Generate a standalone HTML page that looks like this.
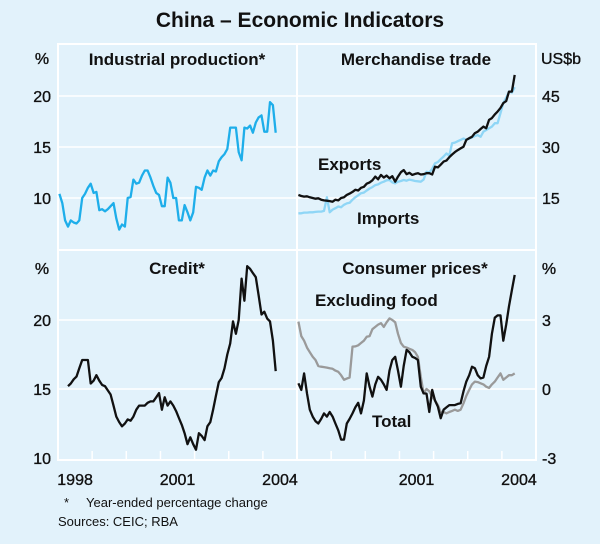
<!DOCTYPE html>
<html><head><meta charset="utf-8"><style>
body{margin:0;background:#e2f2fb;}
svg{display:block;font-family:"Liberation Sans",Arial,sans-serif;}
.t{font-size:16px;fill:#111;stroke:#111;stroke-width:0.35;}
.pt{font-size:17px;font-weight:bold;fill:#111;}
</style></head><body>
<svg id="c" width="600" height="544" viewBox="0 0 600 544">
<rect width="600" height="544" fill="#e2f2fb"/>
<text x="300" y="27" text-anchor="middle" font-size="21" font-weight="bold" fill="#111">China – Economic Indicators</text>
<g id="grid"></g>
<g id="series"></g>
<g id="labels"></g>
<text x="177" y="65" text-anchor="middle" class="pt">Industrial production*</text>
<text x="416" y="65" text-anchor="middle" class="pt">Merchandise trade</text>
<text x="177" y="274" text-anchor="middle" class="pt">Credit*</text>
<text x="415" y="274" text-anchor="middle" class="pt">Consumer prices*</text>
<text x="318" y="170" class="pt">Exports</text>
<text x="357" y="224" class="pt">Imports</text>
<text x="315" y="306" class="pt">Excluding food</text>
<text x="372" y="427" class="pt">Total</text>
<text x="42" y="64" class="t" text-anchor="middle">%</text>
<text x="541" y="64" class="t">US$b</text>
<text x="42" y="274" class="t" text-anchor="middle">%</text>
<text x="549" y="274" class="t" text-anchor="middle">%</text>
<text x="64" y="507" font-size="13" fill="#111">*</text>
<text x="86" y="507" font-size="13" fill="#111">Year-ended percentage change</text>
<text x="58" y="526" font-size="13" fill="#111">Sources: CEIC; RBA</text>
</svg>
<script>
const ipVals=[10.4,9.5,7.8,7.2,7.8,7.6,7.5,7.8,10.0,10.4,11.0,11.4,10.5,10.6,8.8,8.9,8.7,8.9,9.2,9.5,8.0,6.9,7.4,7.2,10.0,10.1,11.8,11.4,11.5,12.2,12.7,12.7,12.0,11.2,10.5,10.3,9.2,9.2,12.0,11.5,10.0,10.0,7.8,7.8,9.3,8.6,7.8,8.6,11.1,11.0,10.8,12.0,12.7,12.2,12.7,12.6,13.6,14.0,14.3,14.8,16.9,16.9,16.9,14.5,13.7,16.9,16.8,17.1,16.4,17.4,17.9,18.1,16.5,16.5,19.4,19.1,16.4];
const exportVals=[15.9,15.6,15.4,15.5,15.2,15.0,14.8,14.9,14.5,14.3,14.2,14.1,13.9,14.5,14.3,15.0,15.2,15.9,16.3,16.8,17.4,17.2,18.0,18.3,19.2,19.6,20.2,21.3,20.5,21.8,21.0,21.6,20.8,21.4,19.8,21.3,22.6,23.2,22.0,22.4,21.8,22.1,22.3,21.9,22.0,22.3,22.3,21.9,24.2,24.0,24.8,25.7,26.0,27.0,27.8,28.5,29.1,29.6,30.1,32.1,32.6,33.0,34.1,34.5,35.3,36.0,35.5,38.0,38.5,39.6,40.4,41.5,42.9,43.5,46.3,46.3,51.2];
const importVals=[10.5,10.5,10.7,10.7,10.8,10.8,10.9,11.0,11.0,11.2,15.2,10.8,11.6,12.0,12.5,12.3,13.0,13.4,13.6,14.5,15.2,15.8,16.4,16.6,17.2,17.8,18.2,18.8,19.0,19.5,19.8,20.2,20.3,19.6,19.3,19.8,20.0,20.3,20.1,20.4,20.2,20.0,19.9,19.8,20.4,22.7,22.5,23.6,25.2,25.6,26.4,27.2,28.1,27.5,31.1,31.3,31.7,32.1,32.5,32.1,32.5,32.8,33.2,33.5,33.0,34.5,35.0,35.5,36.0,37.0,37.0,40.0,42.9,44.5,46.3,46.0,47.6];
const creditStart=3;
const creditVals=[15.2,15.4,15.7,15.9,16.5,17.1,17.1,17.1,15.4,15.6,16.0,15.6,15.3,15.2,14.9,14.6,13.8,13.0,12.6,12.3,12.5,12.8,12.7,13.0,13.5,13.8,13.8,13.8,14.0,14.1,14.1,14.4,14.7,13.5,14.4,13.8,14.1,13.8,13.4,12.9,12.4,11.8,11.0,11.5,11.0,10.6,11.8,11.6,11.3,12.3,12.6,13.5,14.5,15.5,15.8,16.5,17.5,18.3,19.9,19.0,20.0,23.0,21.4,23.9,23.7,23.4,23.1,21.8,20.4,20.6,20.1,19.9,18.5,16.3];
const cpiTotal=[0.25,-0.04,0.68,-0.19,-0.9,-1.2,-1.4,-1.5,-1.3,-1.06,-1.2,-1.0,-1.2,-1.5,-1.8,-2.2,-2.2,-1.5,-1.3,-1.06,-0.8,-0.6,-1.06,-0.5,0.68,0.1,-0.33,0.2,0.53,0.4,0.2,-0.04,0.8,1.26,1.4,0.8,0.1,1.0,1.7,1.6,1.4,1.35,1.26,0.1,-0.19,-0.2,-1.0,-0.04,-0.5,-0.77,-1.27,-0.9,-0.8,-0.7,-0.7,-0.7,-0.65,-0.62,-0.1,0.32,0.6,0.97,0.9,0.6,0.46,0.5,1.0,1.4,2.4,3.1,3.2,3.2,2.1,2.8,3.6,4.3,4.96];
const cpiExFood=[2.93,2.3,2.1,1.8,1.6,1.4,1.26,1.0,0.97,0.95,0.93,0.9,0.88,0.8,0.75,0.6,0.4,0.45,0.5,1.84,1.85,1.9,2.0,2.1,2.27,2.3,2.6,2.7,2.8,2.86,2.7,2.9,3.07,3.0,2.9,2.4,2.0,1.84,1.8,1.75,1.7,1.6,1.4,0.53,-0.19,0.0,-0.1,-0.33,-0.5,-0.7,-1.0,-1.0,-1.06,-1.0,-0.95,-0.9,-0.95,-0.9,-0.62,-0.3,-0.04,0.2,0.32,0.3,0.25,0.2,0.1,0.05,0.2,0.32,0.5,0.68,0.4,0.5,0.6,0.6,0.68];
const yearLabels=["1998","2001","2004"];
const yearLabelIdx=[0,3,6];
const ipTicks=[10,15,20];
const tradeTicks=[15,30,45];
const creditTicks=[10,15,20];
const cpiTicks=[-3,0,3];

const NS="http://www.w3.org/2000/svg";
const LX=58,RX=297,PW=239,YW=34.15;
const TOP=44,MID=250,BOT=460;
const xL=i=>LX+(i+0.5)*YW/12;
const xR=i=>RX+(i+0.5)*YW/12;
const yIP=v=>96+(20-v)*10.2;
const yTR=v=>96+(45-v)*3.4;
const yCR=v=>320+(20-v)*13.8;
const yCP=v=>389-v*23;
function mk(tag,attrs,parent){const e=document.createElementNS(NS,tag);for(const k in attrs)e.setAttribute(k,attrs[k]);parent.appendChild(e);return e;}
const grid=document.getElementById('grid'),ser=document.getElementById('series'),lab=document.getElementById('labels');
let r=mk('rect',{x:LX,y:TOP,width:PW*2,height:BOT-TOP,fill:'#e2f2fb',stroke:'#fff','stroke-width':2},grid);


let l=mk('line',{x1:RX,y1:TOP,x2:RX,y2:BOT,stroke:'#fff','stroke-width':2},grid);


l=mk('line',{x1:LX,y1:MID,x2:LX+2*PW,y2:MID,stroke:'#fff','stroke-width':2},grid);


function hgrid(y){const g=mk('line',{x1:LX,y1:y,x2:LX+2*PW,y2:y,stroke:'#fff','stroke-width':1.5},grid);

}
ipTicks.forEach(v=>hgrid(yIP(v)));
creditTicks.forEach(v=>{if(v>10)hgrid(yCR(v));});
for(let k=1;k<7;k++){[LX,RX].forEach(b=>{const t=mk('line',{x1:b+k*YW,y1:BOT,x2:b+k*YW,y2:BOT-9,stroke:'#fff','stroke-width':1.5},grid);

});}
function txt(x,y,s,anchor,name){const t=mk('text',{x:x,y:y,'text-anchor':anchor,class:'t'},lab);t.textContent=s;

}
ipTicks.forEach(v=>txt(51,yIP(v)+6,String(v),'end','ip-y-tick'));
tradeTicks.forEach(v=>txt(542,yTR(v)+6,String(v),'start','trade-y-tick'));
creditTicks.forEach(v=>txt(51,yCR(v)+6,String(v),'end','credit-y-tick'));
cpiTicks.forEach(v=>txt(542,yCP(v)+6,String(v),'start','cpi-y-tick'));
yearLabels.forEach((s,k)=>{txt(LX+(yearLabelIdx[k]+0.5)*YW,485,s,'middle','x-tick-label');
if(k>0)txt(RX+(yearLabelIdx[k]+0.5)*YW,485,s,'middle','x-tick-label');});
function line(vals,start,xf,yf,color,name){const pts=vals.map((v,i)=>xf(i+start).toFixed(1)+','+yf(v).toFixed(1)).join(' ');
const p=mk('polyline',{points:pts,fill:'none',stroke:color,'stroke-width':2.3,'stroke-linejoin':'round'},ser);

}
line(ipVals,0,xL,yIP,'#1eaeea','industrial-production-line');
line(importVals,0,xR,yTR,'#8fd6f6','imports-line');
line(exportVals,0,xR,yTR,'#111','exports-line');
line(creditVals,creditStart,xL,yCR,'#111','credit-line');
line(cpiExFood,0,xR,yCP,'#9a9a9a','cpi-excluding-food-line');
line(cpiTotal,0,xR,yCP,'#111','cpi-total-line');
</script>
</body></html>
